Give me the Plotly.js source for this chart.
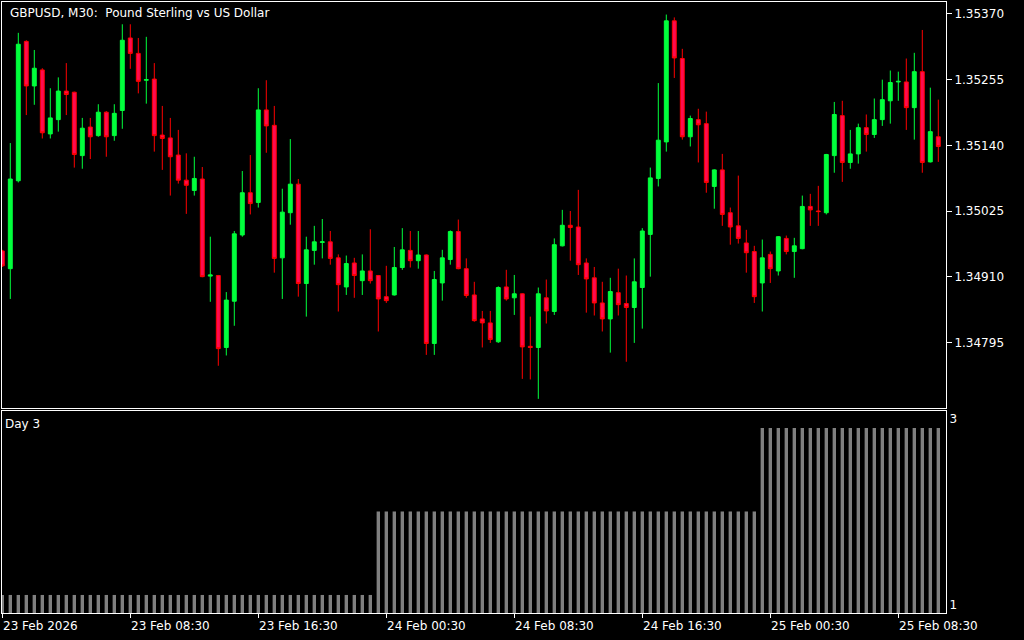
<!DOCTYPE html>
<html>
<head>
<meta charset="utf-8">
<script src="https://cdn.plot.ly/plotly-3.0.1.min.js"></script>
<style>
html,body{margin:0;padding:0;background:#000;}
#chart{width:1024px;height:640px;}
</style>
</head>
<body>
<div id="chart"></div>
<script>
// ---- DATA ----
const chartTitle = 'GBPUSD, M30:\u00a0 Pound Sterling vs US Dollar';
const indicatorName = 'Day 3';
const firstBarTime = '2026-02-23T00:30:00Z';

const open = [1.34955,1.34924,1.35078,1.35322,1.35244,1.35272,1.35160,1.35185,1.35235,1.35233,
1.35122,1.35172,1.35157,1.35198,1.35157,1.35201,1.35328,1.35301,1.35254,1.35256,
1.35158,1.35153,1.35123,1.35079,1.35061,1.35081,1.34911,1.34912,1.34786,1.34867,
1.34983,1.35057,1.35040,1.35202,1.35175,1.34943,1.35022,1.35072,1.34898,1.34956,
1.34970,1.34971,1.34943,1.34892,1.34934,1.34903,1.34920,1.34912,1.34875,1.34878,
1.34926,1.34956,1.34938,1.34948,1.34793,1.34899,1.34940,1.34989,1.34924,1.34878,
1.34836,1.34829,1.34796,1.34892,1.34873,1.34880,1.34788,1.34786,1.34873,1.34849,
1.34964,1.35000,1.34997,1.34934,1.34908,1.34864,1.34836,1.34882,1.34863,1.34856,
1.34891,1.34984,1.35082,1.35146,1.35358,1.35292,1.35155,1.35185,1.35178,1.35068,
1.35097,1.35022,1.34999,1.34969,1.34954,1.34899,1.34949,1.34920,1.34977,1.34954,
1.34959,1.35033,1.35025,1.35022,1.35122,1.35192,1.35110,1.35125,1.35171,1.35159,
1.35185,1.35218,1.35251,1.35251,1.35206,1.35269,1.35111,1.35155];
const high = [1.34957,1.35144,1.35337,1.35324,1.35307,1.35275,1.35240,1.35259,1.35284,1.35234,
1.35188,1.35188,1.35212,1.35200,1.35212,1.35352,1.35352,1.35328,1.35330,1.35284,
1.35209,1.35188,1.35167,1.35126,1.35120,1.35102,1.34980,1.34913,1.34883,1.34990,
1.35095,1.35123,1.35240,1.35254,1.35209,1.35064,1.35151,1.35081,1.34980,1.34999,
1.35011,1.34990,1.34949,1.34947,1.34943,1.34949,1.34993,1.34913,1.34929,1.34962,
1.34995,1.34990,1.34990,1.34949,1.34920,1.34957,1.34991,1.35010,1.34942,1.34901,
1.34850,1.34850,1.34893,1.34922,1.34913,1.34881,1.34840,1.34891,1.34905,1.34977,
1.35027,1.35025,1.35062,1.34942,1.34927,1.34901,1.34908,1.34924,1.34912,1.34942,
1.34995,1.35101,1.35249,1.35369,1.35364,1.35309,1.35192,1.35204,1.35199,1.35098,
1.35125,1.35031,1.35087,1.34992,1.34964,1.34975,1.34954,1.34981,1.34982,1.34978,
1.35052,1.35055,1.35069,1.35125,1.35216,1.35218,1.35167,1.35178,1.35194,1.35222,
1.35255,1.35271,1.35269,1.35292,1.35302,1.35342,1.35241,1.35220];
const low = [1.34927,1.34871,1.35075,1.35193,1.35211,1.35152,1.35152,1.35164,1.35193,1.35101,
1.35099,1.35116,1.35155,1.35120,1.35148,1.35169,1.35274,1.35231,1.35213,1.35129,
1.35097,1.35052,1.35073,1.35020,1.35052,1.34909,1.34866,1.34754,1.34772,1.34824,
1.34980,1.35019,1.35031,1.35127,1.34917,1.34871,1.35001,1.34875,1.34840,1.34931,
1.34942,1.34931,1.34849,1.34878,1.34873,1.34878,1.34898,1.34814,1.34864,1.34877,
1.34922,1.34926,1.34924,1.34773,1.34773,1.34868,1.34931,1.34923,1.34873,1.34831,
1.34786,1.34794,1.34794,1.34868,1.34843,1.34731,1.34730,1.34696,1.34828,1.34843,
1.34963,1.34938,1.34913,1.34847,1.34842,1.34814,1.34777,1.34842,1.34761,1.34794,
1.34819,1.34910,1.35068,1.35129,1.35258,1.35150,1.35138,1.35110,1.35057,1.35029,
1.34999,1.34966,1.34968,1.34917,1.34864,1.34849,1.34899,1.34912,1.34949,1.34908,
1.34958,1.34999,1.34999,1.35019,1.35092,1.35076,1.35099,1.35108,1.35129,1.35153,
1.35174,1.35178,1.35218,1.35167,1.35150,1.35092,1.35110,1.35111];
const close = [1.34929,1.35081,1.35317,1.35244,1.35275,1.35162,1.35188,1.35235,1.35229,1.35124,
1.35170,1.35155,1.35198,1.35155,1.35196,1.35324,1.35301,1.35252,1.35255,1.35157,
1.35152,1.35120,1.35079,1.35070,1.35082,1.34910,1.34913,1.34784,1.34869,1.34985,
1.35057,1.35038,1.35202,1.35174,1.34942,1.35023,1.35072,1.34898,1.34957,1.34971,
1.34971,1.34942,1.34896,1.34933,1.34912,1.34920,1.34903,1.34871,1.34868,1.34926,
1.34957,1.34938,1.34948,1.34793,1.34905,1.34943,1.34989,1.34924,1.34877,1.34833,
1.34829,1.34800,1.34891,1.34871,1.34880,1.34787,1.34786,1.34880,1.34850,1.34966,
1.35000,1.34996,1.34931,1.34906,1.34864,1.34836,1.34884,1.34861,1.34856,1.34901,
1.34990,1.35083,1.35149,1.35358,1.35293,1.35155,1.35187,1.35176,1.35075,1.35097,
1.35019,1.34997,1.34977,1.34952,1.34875,1.34943,1.34924,1.34980,1.34954,1.34964,
1.35033,1.35027,1.35024,1.35124,1.35194,1.35110,1.35125,1.35171,1.35159,1.35185,
1.35220,1.35250,1.35252,1.35206,1.35269,1.35110,1.35164,1.35138];
const dayNumber = [1,1,1,1,1,1,1,1,1,1,1,1,1,1,1,1,1,1,1,1,1,1,1,1,1,1,1,1,1,1,1,1,1,1,1,1,1,1,1,1,1,1,1,1,1,1,1,
2,2,2,2,2,2,2,2,2,2,2,2,2,2,2,2,2,2,2,2,2,2,2,2,2,2,2,2,2,2,2,2,2,2,2,2,2,2,2,2,2,2,2,2,2,2,2,2,
3,3,3,3,3,3,3,3,3,3,3,3,3,3,3,3,3,3,3,3,3,3,3];
const priceTicks = [1.34795, 1.34910, 1.35025, 1.35140, 1.35255, 1.35370];
const timeTickTimes = ['2026-02-23 00:30','2026-02-23 08:30','2026-02-23 16:30','2026-02-24 00:30',
  '2026-02-24 08:30','2026-02-24 16:30','2026-02-25 00:30','2026-02-25 08:30'];
const timeTickLabels = ['23 Feb 2026','23 Feb 08:30','23 Feb 16:30','24 Feb 00:30',
  '24 Feb 08:30','24 Feb 16:30','25 Feb 00:30','25 Feb 08:30'];
const dayTickLabels = ['1','3'];

// ---- category labels for bars (30-minute sequence) ----
function pad(n){return String(n).padStart(2,'0');}
const t0 = Date.parse(firstBarTime);
const times = open.map((_, i) => {
  const d = new Date(t0 + i * 30 * 60000);
  return d.getUTCFullYear() + '-' + pad(d.getUTCMonth()+1) + '-' + pad(d.getUTCDate()) + ' ' +
         pad(d.getUTCHours()) + ':' + pad(d.getUTCMinutes());
});

const FONT = 'DejaVu Sans, Verdana, sans-serif';
const WHITE = '#ffffff';
const xr = [-0.0375, times.length - 0.0375];

const traces = [
  {
    type: 'candlestick', x: times, open: open, high: high, low: low, close: close,
    xaxis: 'x', yaxis: 'y',
    increasing: {line: {color: '#00ff3c', width: 1}, fillcolor: '#00ff3c'},
    decreasing: {line: {color: '#ff0000', width: 1}, fillcolor: '#ff0a50'},
    whiskerwidth: 0, hoverinfo: 'skip', showlegend: false
  },
  {
    type: 'bar', x: times, y: dayNumber, xaxis: 'x2', yaxis: 'y2',
    marker: {color: '#808080', line: {width: 0}}, width: 0.42,
    hoverinfo: 'skip', showlegend: false
  }
];

const annotations = [
  {text: chartTitle, xref: 'paper', yref: 'paper', x: 0, y: 1, xanchor: 'left', yanchor: 'top',
   xshift: 6, yshift: -2, showarrow: false, font: {family: FONT, size: 12, color: WHITE}},
  {text: indicatorName, xref: 'paper', yref: 'paper', x: 0, y: 0.3306, xanchor: 'left', yanchor: 'top',
   xshift: 1, yshift: -4, showarrow: false, font: {family: FONT, size: 12, color: WHITE}}
];
timeTickTimes.forEach((t, i) => {
  annotations.push({text: timeTickLabels[i], xref: 'x2', yref: 'paper', x: t, y: 0,
    xanchor: 'left', yanchor: 'top', xshift: -1, yshift: -4, showarrow: false,
    font: {family: FONT, size: 12, color: WHITE}});
});

const axisLine = {showline: true, mirror: true, linecolor: WHITE, linewidth: 1, showgrid: false, zeroline: false};

const layout = {
  width: 1024, height: 640,
  paper_bgcolor: '#000000', plot_bgcolor: '#000000',
  margin: {l: 2, r: 78, t: 2, b: 27},
  showlegend: false,
  boxgap: 0.3, boxgroupgap: 0.3,
  xaxis: Object.assign({}, axisLine, {type: 'category', range: xr, anchor: 'y',
    rangeslider: {visible: false}, showticklabels: false, ticks: ''}),
  yaxis: Object.assign({}, axisLine, {domain: [0.3355, 1], range: [1.346800, 1.353910], side: 'right',
    tickvals: priceTicks, tickformat: '.5f', ticks: 'outside', ticklen: 5, tickcolor: WHITE,
    tickfont: {family: FONT, size: 12, color: WHITE}}),
  xaxis2: Object.assign({}, axisLine, {type: 'category', range: xr, anchor: 'y2',
    tickvals: timeTickTimes, showticklabels: false, ticks: 'outside', ticklen: 4, tickcolor: WHITE}),
  yaxis2: Object.assign({}, axisLine, {domain: [0, 0.3306], range: [0.784, 3.2036], side: 'right',
    tickvals: [0.88, 3.108], ticktext: dayTickLabels, ticks: '',
    tickfont: {family: FONT, size: 12, color: WHITE}}),
  annotations: annotations
};

Plotly.newPlot('chart', traces, layout, {displayModeBar: false, staticPlot: true});
</script>
</body>
</html>
